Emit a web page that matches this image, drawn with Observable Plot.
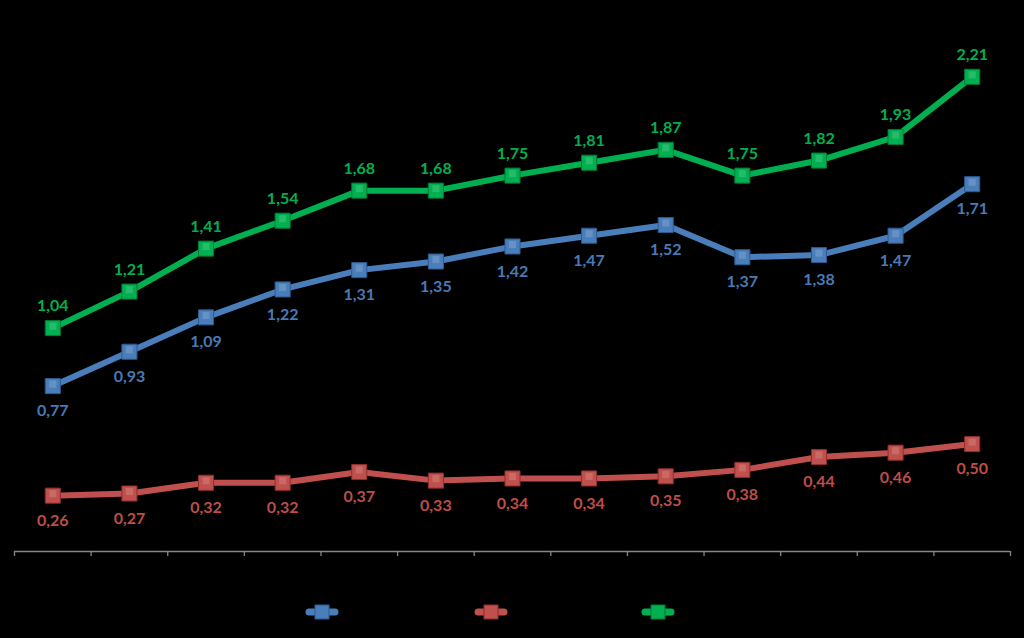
<!DOCTYPE html>
<html>
<head>
<meta charset="utf-8">
<script src="https://cdn.jsdelivr.net/npm/d3@7"></script>
<script src="https://cdn.jsdelivr.net/npm/@observablehq/plot@0.6"></script>
<style>
  html, body { margin: 0; padding: 0; background: #000; width: 1024px; height: 638px; overflow: hidden; }
  #chart svg { display: block; }
  #legend { position: relative; width: 1024px; height: 53px; }
</style>
</head>
<body>
<div id="chart"></div>
<div id="legend"></div>
<script>
const periods = [1, 2, 3, 4, 5, 6, 7, 8, 9, 10, 11, 12, 13];
const blueValues  = [0.77, 0.93, 1.09, 1.22, 1.31, 1.35, 1.42, 1.47, 1.52, 1.37, 1.38, 1.47, 1.71];
const redValues   = [0.26, 0.27, 0.32, 0.32, 0.37, 0.33, 0.34, 0.34, 0.35, 0.38, 0.44, 0.46, 0.50];
const greenValues = [1.04, 1.21, 1.41, 1.54, 1.68, 1.68, 1.75, 1.81, 1.87, 1.75, 1.82, 1.93, 2.21];
const seriesNames = ["Série 1", "Série 2", "Série 3"];
const lineColors  = ["#4a7ebb", "#c0504d", "#00b050"];
const labelColors = ["#4a7ab5", "#bf4d4a", "#00b050"];
const markerStroke = ["#2c5a8f", "#8c2f2c", "#007a36"];

const allValues = [blueValues, redValues, greenValues];
const data = [];
allValues.forEach((vals, s) => vals.forEach((v, i) => data.push({series: s, idx: i, period: periods[i], value: v})));

const fmt = v => d3.format(".2f")(v).replace(".", ",");
const n = periods.length;
const boundaries = d3.range(n + 1).map(i => i - 0.5);

const marks = [
  Plot.ruleY([0], {stroke: "#868686", strokeWidth: 1.3}),
  Plot.axisX({ticks: boundaries, tickFormat: () => "", tickSize: 5, stroke: "#868686", strokeWidth: 1.3, label: null}),
];
allValues.forEach((vals, s) => {
  const d = data.filter(r => r.series === s);
  marks.push(Plot.line(d, {x: "idx", y: "value", stroke: lineColors[s], strokeWidth: 6, strokeLinejoin: "round"}));
  marks.push(Plot.dot(d, {x: "idx", y: "value", symbol: "square", r: 8.5, fill: lineColors[s], stroke: markerStroke[s], strokeWidth: 1}));
  marks.push(Plot.dot(d, {x: "idx", y: "value", symbol: "square", r: 4, fill: "#ffffff", fillOpacity: 0.15, dy: -2}));
  marks.push(Plot.text(d, {
    x: "idx", y: "value", text: r => fmt(r.value),
    dy: s === 2 ? -22 : 25,
    fill: labelColors[s], fontSize: 16, fontWeight: "bold", fontFamily: "Lato, 'Open Sans', sans-serif"
  }));
});

const chart = Plot.plot({
  width: 1024,
  height: 585,
  marginLeft: 14,
  marginRight: 14,
  marginTop: 14,
  marginBottom: 34,
  style: {background: "#000", color: "#868686", fontFamily: "Lato, sans-serif"},
  x: {type: "linear", domain: [-0.5, n - 0.5], axis: null, label: null},
  y: {domain: [0, 2.5], axis: null},
  marks
});
document.getElementById("chart").appendChild(chart);

// Legend swatches
const legendX = [322, 491, 658];
const lsvg = d3.select("#legend").append("svg").attr("width", 1024).attr("height", 53);
seriesNames.forEach((name, s) => {
  const g = lsvg.append("g").attr("transform", `translate(${legendX[s]},27)`);
  g.append("line").attr("x1", -13).attr("x2", 13).attr("y1", 0).attr("y2", 0)
    .attr("stroke", lineColors[s]).attr("stroke-width", 7).attr("stroke-linecap", "round");
  g.append("rect").attr("x", -7).attr("y", -7).attr("width", 14).attr("height", 14)
    .attr("fill", lineColors[s]).attr("stroke", markerStroke[s]).attr("stroke-width", 1);
  g.append("title").text(name);
});
</script>
</body>
</html>
